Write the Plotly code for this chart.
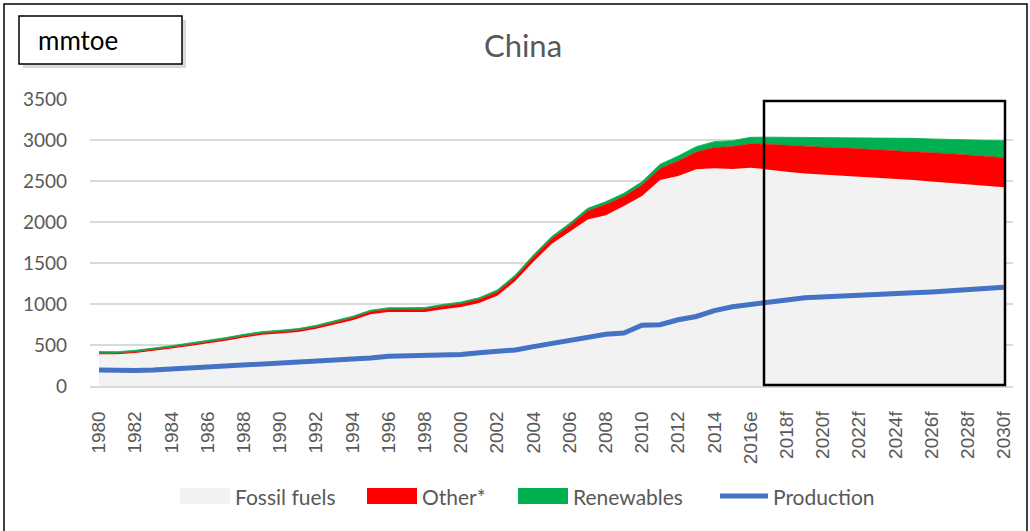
import plotly.graph_objects as go

# ---- data (mmtoe) ----
years = ["1980", "1981", "1982", "1983", "1984", "1985", "1986", "1987", "1988", "1989",
         "1990", "1991", "1992", "1993", "1994", "1995", "1996", "1997", "1998", "1999",
         "2000", "2001", "2002", "2003", "2004", "2005", "2006", "2007", "2008", "2009",
         "2010", "2011", "2012", "2013", "2014", "2015", "2016e", "2017f", "2018f", "2019f",
         "2020f", "2021f", "2022f", "2023f", "2024f", "2025f", "2026f", "2027f", "2028f",
         "2029f", "2030f"]

fossil_fuels = [388, 386, 402, 427, 458, 489, 517, 553, 592, 624,
                640, 659, 697, 750, 803, 875, 903, 901, 901, 936,
                962, 1012, 1100, 1279, 1516, 1731, 1882, 2030, 2083, 2194,
                2317, 2512, 2560, 2642, 2654, 2646, 2663, 2642, 2614, 2590,
                2578, 2566, 2553, 2540, 2526, 2512, 2495, 2478, 2460, 2442, 2423]

other = [12, 12, 13, 13, 14, 15, 16, 17, 18, 19,
         20, 21, 23, 25, 27, 30, 32, 34, 36, 38,
         40, 42, 46, 50, 55, 62, 72, 105, 130, 118,
         133, 141, 185, 212, 256, 274, 290, 305, 320, 330,
         335, 338, 340, 343, 346, 349, 352, 355, 357, 359, 361]

renewables = [20, 20, 20, 20, 20, 20, 20, 20, 20, 20,
              20, 20, 20, 20, 20, 20, 20, 20, 21, 21,
              22, 23, 24, 25, 27, 28, 30, 32, 35, 38,
              42, 50, 60, 65, 70, 72, 80, 88, 100, 113,
              120, 129, 139, 147, 153, 159, 166, 173, 182, 193, 206]

production = [195, 188, 188, 195, 207, 222, 235, 247, 258, 270,
              275, 280, 292, 305, 322, 342, 362, 368, 368, 370,
              385, 405, 420, 440, 480, 515, 550, 582, 630, 645,
              740, 748, 808, 848, 920, 967, 990, 1020, 1049, 1077,
              1089, 1098, 1106, 1116, 1126, 1136, 1146, 1158, 1171, 1187, 1203]

y_ticks = [0, 500, 1000, 1500, 2000, 2500, 3000, 3500]

series_names = ["Fossil fuels", "Other*", "Renewables", "Production"]
series_colors = ["#F2F2F2", "#FF0000", "#00B050", "#4472C4"]

# ---- figure ----
W, H = 1030, 531
L, R, T, B = 90, 17, 99, 145
pw, ph = W - L - R, H - T - B


def px_x(x):
    return (x - L) / pw


def px_y(y):
    return (H - B - y) / ph


fig = go.Figure()
fig.add_trace(go.Scatter(x=years, y=fossil_fuels, name=series_names[0], stackgroup="one",
                         mode="lines", line=dict(width=0, color=series_colors[0]),
                         fillcolor=series_colors[0]))
fig.add_trace(go.Scatter(x=years, y=other, name=series_names[1], stackgroup="one",
                         mode="lines", line=dict(width=0.6, color=series_colors[1]),
                         fillcolor=series_colors[1]))
fig.add_trace(go.Scatter(x=years, y=renewables, name=series_names[2], stackgroup="one",
                         mode="lines", line=dict(width=0.8, color=series_colors[2]),
                         fillcolor=series_colors[2]))
fig.add_trace(go.Scatter(x=years, y=production, name=series_names[3], mode="lines",
                         line=dict(width=5, color=series_colors[3])))

shapes = [
    # outer chart border
    dict(type="rect", xref="paper", yref="paper",
         x0=px_x(4), x1=px_x(1027), y0=px_y(540), y1=px_y(4),
         line=dict(color="black", width=1.5), fillcolor="rgba(0,0,0,0)", layer="above"),
    # forecast box
    dict(type="rect", xref="paper", yref="paper",
         x0=px_x(764), x1=px_x(1005), y0=px_y(385), y1=px_y(101),
         line=dict(color="black", width=2.5), fillcolor="rgba(0,0,0,0)", layer="above"),
    # unit box shadow
    dict(type="rect", xref="paper", yref="paper",
         x0=px_x(23), x1=px_x(186), y0=px_y(68), y1=px_y(20),
         line=dict(width=0), fillcolor="rgba(160,160,160,0.4)", layer="above"),
    # unit box
    dict(type="rect", xref="paper", yref="paper",
         x0=px_x(19), x1=px_x(182), y0=px_y(64), y1=px_y(16),
         line=dict(color="black", width=1.5), fillcolor="white", layer="above"),
]

annotations = [
    dict(text="mmtoe", xref="paper", yref="paper", x=px_x(36), y=px_y(40),
         xanchor="left", yanchor="middle", showarrow=False,
         font=dict(family="Lato", size=26, color="black")),
]

# legend (drawn as swatches + text)
leg_swatch_x = [180, 367, 518, 718]
leg_y = 496
for i, name in enumerate(series_names):
    x0 = leg_swatch_x[i]
    if i < 3:
        shapes.append(dict(type="rect", xref="paper", yref="paper",
                           x0=px_x(x0), x1=px_x(x0 + 50), y0=px_y(leg_y + 8), y1=px_y(leg_y - 8),
                           line=dict(width=0), fillcolor=series_colors[i]))
    else:
        shapes.append(dict(type="line", xref="paper", yref="paper",
                           x0=px_x(x0 + 2), x1=px_x(x0 + 50), y0=px_y(leg_y), y1=px_y(leg_y),
                           line=dict(width=5, color=series_colors[i])))
    annotations.append(dict(text=name, xref="paper", yref="paper",
                            x=px_x(x0 + 53), y=px_y(leg_y), xanchor="left", yanchor="middle",
                            showarrow=False,
                            font=dict(family="Lato", size=21, color="#595959")))

fig.update_layout(
    width=W, height=H,
    margin=dict(l=L, r=R, t=T, b=B, autoexpand=False),
    paper_bgcolor="white", plot_bgcolor="white",
    title=dict(text="China", x=523 / W, xanchor="center", y=1 - 46 / H, yanchor="middle",
               font=dict(family="Lato", size=31, color="#595959")),
    showlegend=False,
    xaxis=dict(type="category", tickmode="array", tickvals=years[::2], ticktext=years[::2],
               tickangle=-90, tickfont=dict(family="Liberation Sans", size=19, color="#595959"),
               showgrid=False, showline=True, linecolor="#D9D9D9", linewidth=1.5,
               ticks="", range=[-0.5, len(years) - 0.5], ticklabelstandoff=16),
    yaxis=dict(range=[0, 3500], tickvals=y_ticks, showgrid=True, gridcolor="#D9D9D9",
               gridwidth=1.5, zeroline=False, ticks="",
               tickfont=dict(family="Lato", size=19, color="#595959"),
               ticklabelstandoff=22),
    shapes=shapes,
    annotations=annotations,
)

fig.write_html("out.html", config={"displayModeBar": False},
               post_script="document.body.style.margin='0px';")
